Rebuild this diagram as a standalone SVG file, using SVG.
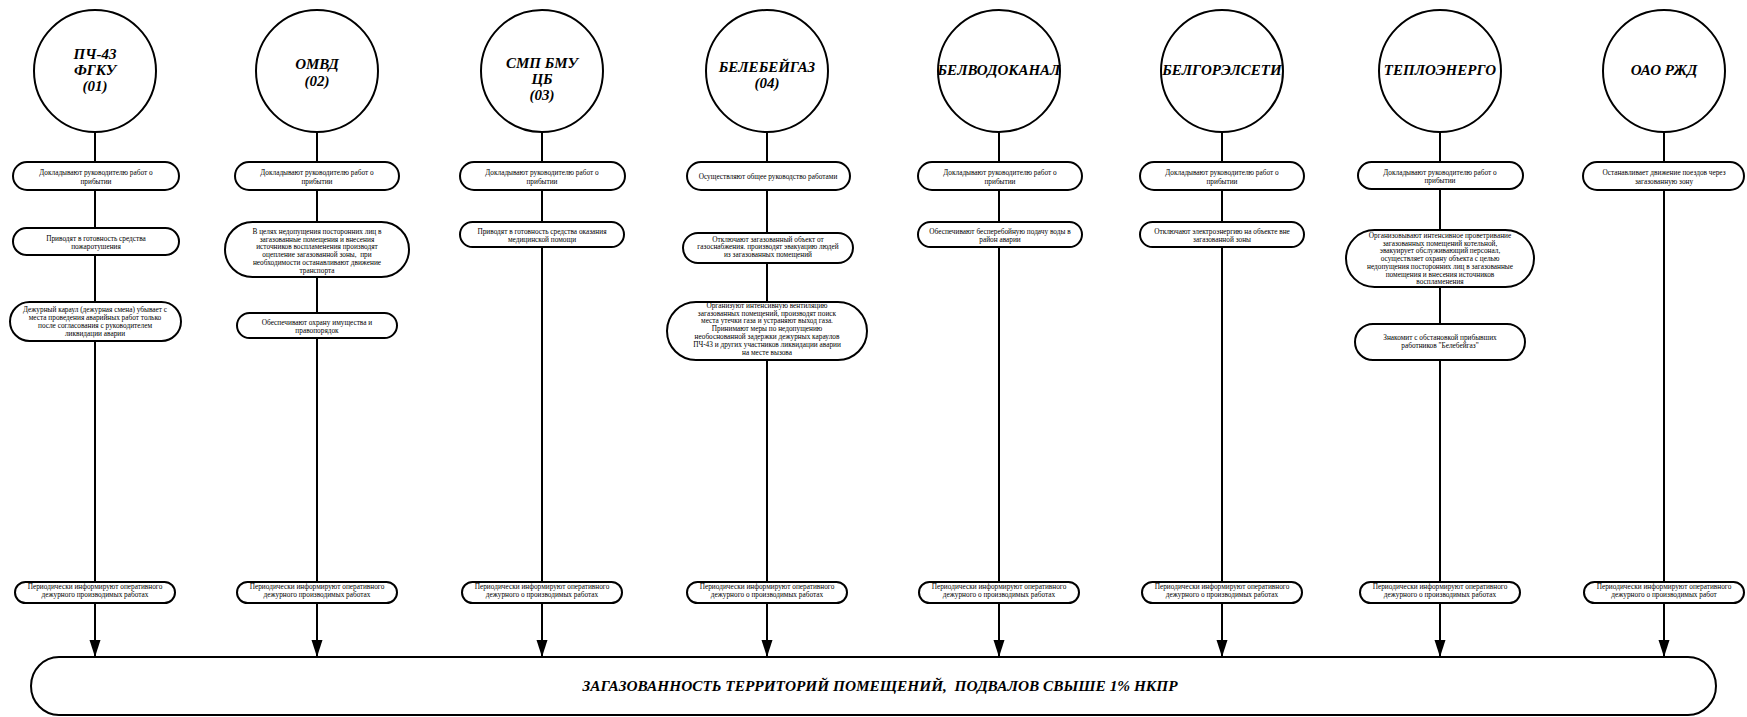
<svg xmlns="http://www.w3.org/2000/svg" width="1747" height="717" viewBox="0 0 1747 717">
<defs>
<style>
.c{fill:#fff;stroke:#000;stroke-width:2}
.b{fill:#fff;stroke:#000;stroke-width:2}
.h{font-family:"Liberation Serif",serif;font-weight:bold;font-style:italic;font-size:15px;text-anchor:middle;fill:#000}
.t{font-family:"Liberation Serif",serif;font-size:7.3px;text-anchor:middle;fill:#000}
.l{stroke:#000;stroke-width:2;fill:none}
.a{stroke:#000;stroke-width:2;fill:none;marker-end:url(#arr)}
.bn{font-family:"Liberation Serif",serif;font-weight:bold;font-style:italic;font-size:15px;text-anchor:middle;fill:#000}
</style>
<marker id="arr" markerUnits="userSpaceOnUse" markerWidth="18" markerHeight="12" refX="17" refY="5.5" orient="auto">
<path d="M0,0 L17,5.5 L0,11 z" fill="#000"/>
</marker>
</defs>
<rect width="1747" height="717" fill="#fff"/>

<g id="connectors">
<path class="l" d="M95,132V162M95,190V228M95,255V302M95,341V582"/>
<path class="a" d="M95,603V657"/>
<path class="l" d="M317,132V162M317,190V222M317,277V313M317,338V582"/>
<path class="a" d="M317,603V657"/>
<path class="l" d="M542,132V162M542,190V222M542,247V582"/>
<path class="a" d="M542,603V657"/>
<path class="l" d="M767,132V162M767,190V233M767,263V302M767,360V582"/>
<path class="a" d="M767,603V657"/>
<path class="l" d="M999,132V162M999,190V222M999,247V582"/>
<path class="a" d="M999,603V657"/>
<path class="l" d="M1222,132V162M1222,190V222M1222,247V582"/>
<path class="a" d="M1222,603V657"/>
<path class="l" d="M1440,132V162M1440,189V230M1440,287V324M1440,360V582"/>
<path class="a" d="M1440,603V657"/>
<path class="l" d="M1664,132V162M1664,190V582"/>
<path class="a" d="M1664,603V657"/>
</g>

<!-- Column 1 -->
<g id="org1"><circle class="c" cx="95" cy="71" r="61"/>
<text class="h" x="95" y="59">ПЧ-43</text><text class="h" x="95" y="75">ФГКУ</text><text class="h" x="95" y="91">(01)</text></g>
<g id="n1a"><rect class="b" x="13" y="162" width="166" height="28" rx="14"/>
<text class="t" x="96" y="175">Докладывают руководителю работ о</text><text class="t" x="96" y="183.5">прибытии</text></g>
<g id="n1b"><rect class="b" x="13" y="228" width="166" height="27" rx="13.5"/>
<text class="t" x="96" y="240.5">Приводят в готовность средства</text><text class="t" x="96" y="249">пожаротушения</text></g>
<g id="n1c"><rect class="b" x="10" y="302" width="171" height="39" rx="19.5"/>
<text class="t" x="95" y="312">Дежурный караул (дежурная смена) убывает с</text><text class="t" x="95" y="320">места проведения аварийных работ только</text><text class="t" x="95" y="328">после согласования с руководителем</text><text class="t" x="95" y="336">ликвидации аварии</text></g>
<g id="n1d"><rect class="b" x="15" y="582" width="160" height="21" rx="10.5"/>
<text class="t" x="95" y="589">Периодически информируют оперативного</text><text class="t" x="95" y="597">дежурного производимых работах</text></g>

<!-- Column 2 -->
<g id="org2"><circle class="c" cx="317" cy="71" r="61"/>
<text class="h" x="317" y="69">ОМВД</text><text class="h" x="317" y="86">(02)</text></g>
<g id="n2a"><rect class="b" x="235" y="162" width="164" height="28" rx="14"/>
<text class="t" x="317" y="175">Докладывают руководителю работ о</text><text class="t" x="317" y="183.5">прибытии</text></g>
<g id="n2b"><rect class="b" x="225" y="222" width="184" height="55" rx="27.5"/>
<text class="t" x="317" y="234">В целях недопущения посторонних лиц в</text><text class="t" x="317" y="241.7">загазованные помещения и внесения</text><text class="t" x="317" y="249.4">источников воспламенения производят</text><text class="t" x="317" y="257.1">оцепление загазованной зоны,&#160; при</text><text class="t" x="317" y="264.8">необходимости останавливают движение</text><text class="t" x="317" y="272.5">транспорта</text></g>
<g id="n2c"><rect class="b" x="237" y="313" width="160" height="25" rx="12.5"/>
<text class="t" x="317" y="324.5">Обеспечивают охрану имущества и</text><text class="t" x="317" y="332.5">правопорядок</text></g>
<g id="n2d"><rect class="b" x="237" y="582" width="160" height="21" rx="10.5"/>
<text class="t" x="317" y="589">Периодически информируют оперативного</text><text class="t" x="317" y="597">дежурного производимых работах</text></g>

<!-- Column 3 -->
<g id="org3"><circle class="c" cx="542" cy="71" r="61"/>
<text class="h" x="542" y="68">СМП БМУ</text><text class="h" x="542" y="84">ЦБ</text><text class="h" x="542" y="100">(03)</text></g>
<g id="n3a"><rect class="b" x="460" y="162" width="165" height="28" rx="14"/>
<text class="t" x="542" y="175">Докладывают руководителю работ о</text><text class="t" x="542" y="183.5">прибытии</text></g>
<g id="n3b"><rect class="b" x="460" y="222" width="164" height="25" rx="12.5"/>
<text class="t" x="542" y="233.5">Приводят в готовность средства оказания</text><text class="t" x="542" y="241.5">медицинской помощи</text></g>
<g id="n3d"><rect class="b" x="462" y="582" width="160" height="21" rx="10.5"/>
<text class="t" x="542" y="589">Периодически информируют оперативного</text><text class="t" x="542" y="597">дежурного о производимых работах</text></g>

<!-- Column 4 -->
<g id="org4"><circle class="c" cx="767" cy="71" r="61"/>
<text class="h" x="767" y="72">БЕЛЕБЕЙГАЗ</text><text class="h" x="767" y="88">(04)</text></g>
<g id="n4a"><rect class="b" x="687" y="162" width="163" height="28" rx="14"/>
<text class="t" x="768" y="178.5">Осуществляют общее руководство работами</text></g>
<g id="n4b"><rect class="b" x="683" y="233" width="170" height="30" rx="15"/>
<text class="t" x="768" y="241.5">Отключают загазованный объект от</text><text class="t" x="768" y="249">газоснабжения. производят эвакуацию людей</text><text class="t" x="768" y="256.5">из загазованных помещений</text></g>
<g id="n4c"><rect class="b" x="667" y="302" width="200" height="58" rx="29"/>
<text class="t" x="767" y="307.8">Организуют интенсивную вентиляцию</text><text class="t" x="767" y="315.6">загазованных помещений, производят поиск</text><text class="t" x="767" y="323.4">места утечки газа и устраняют выход газа.</text><text class="t" x="767" y="331.2">Принимают меры по недопущению</text><text class="t" x="767" y="339">необоснованной задержки дежурных караулов</text><text class="t" x="767" y="346.8">ПЧ-43 и других участников ликвидации аварии</text><text class="t" x="767" y="354.6">на месте вызова</text></g>
<g id="n4d"><rect class="b" x="687" y="582" width="160" height="21" rx="10.5"/>
<text class="t" x="767" y="589">Периодически информируют оперативного</text><text class="t" x="767" y="597">дежурного о производимых работах</text></g>

<!-- Column 5 -->
<g id="org5"><circle class="c" cx="999" cy="71" r="61"/>
<text class="h" x="999" y="75">БЕЛВОДОКАНАЛ</text></g>
<g id="n5a"><rect class="b" x="918" y="162" width="164" height="28" rx="14"/>
<text class="t" x="1000" y="175">Докладывают руководителю работ о</text><text class="t" x="1000" y="183.5">прибытии</text></g>
<g id="n5b"><rect class="b" x="918" y="222" width="164" height="25" rx="12.5"/>
<text class="t" x="1000" y="233.5">Обеспечивают бесперебойную подачу воды в</text><text class="t" x="1000" y="241.5">район аварии</text></g>
<g id="n5d"><rect class="b" x="919" y="582" width="160" height="21" rx="10.5"/>
<text class="t" x="999" y="589">Периодически информируют оперативного</text><text class="t" x="999" y="597">дежурного о производимых работах</text></g>

<!-- Column 6 -->
<g id="org6"><circle class="c" cx="1222" cy="71" r="61"/>
<text class="h" x="1222" y="75">БЕЛГОРЭЛСЕТИ</text></g>
<g id="n6a"><rect class="b" x="1140" y="162" width="164" height="28" rx="14"/>
<text class="t" x="1222" y="175">Докладывают руководителю работ о</text><text class="t" x="1222" y="183.5">прибытии</text></g>
<g id="n6b"><rect class="b" x="1140" y="222" width="164" height="25" rx="12.5"/>
<text class="t" x="1222" y="233.5">Отключают электроэнергию на объекте вне</text><text class="t" x="1222" y="241.5">загазованной зоны</text></g>
<g id="n6d"><rect class="b" x="1142" y="582" width="160" height="21" rx="10.5"/>
<text class="t" x="1222" y="589">Периодически информируют оперативного</text><text class="t" x="1222" y="597">дежурного о производимых работах</text></g>

<!-- Column 7 -->
<g id="org7"><circle class="c" cx="1440" cy="71" r="61"/>
<text class="h" x="1440" y="75">ТЕПЛОЭНЕРГО</text></g>
<g id="n7a"><rect class="b" x="1358" y="162" width="165" height="27" rx="13.5"/>
<text class="t" x="1440" y="174.5">Докладывают руководителю работ о</text><text class="t" x="1440" y="183">прибытии</text></g>
<g id="n7b"><rect class="b" x="1346" y="230" width="188" height="57" rx="28.5"/>
<text class="t" x="1440" y="238">Организовывают интенсивное проветривание</text><text class="t" x="1440" y="245.7">загазованных помещений котельной,</text><text class="t" x="1440" y="253.4">эвакуирует обслуживающий персонал,</text><text class="t" x="1440" y="261.1">осуществляет охрану объекта с целью</text><text class="t" x="1440" y="268.8">недопущения посторонних лиц в загазованные</text><text class="t" x="1440" y="276.5">помещения и внесения источников</text><text class="t" x="1440" y="284.2">воспламенения</text></g>
<g id="n7c"><rect class="b" x="1355" y="324" width="170" height="36" rx="18"/>
<text class="t" x="1440" y="340">Знакомит с обстановкой прибывших</text><text class="t" x="1440" y="347.5">работников "Белебейгаз"</text></g>
<g id="n7d"><rect class="b" x="1360" y="582" width="160" height="21" rx="10.5"/>
<text class="t" x="1440" y="589">Периодически информируют оперативного</text><text class="t" x="1440" y="597">дежурного о производимых работах</text></g>

<!-- Column 8 -->
<g id="org8"><circle class="c" cx="1664" cy="71" r="61"/>
<text class="h" x="1664" y="75">ОАО РЖД</text></g>
<g id="n8a"><rect class="b" x="1583" y="162" width="161" height="28" rx="14"/>
<text class="t" x="1664" y="175">Останавливает движение поездов через</text><text class="t" x="1664" y="183.5">загазованную зону</text></g>
<g id="n8d"><rect class="b" x="1584" y="582" width="160" height="21" rx="10.5"/>
<text class="t" x="1664" y="589">Периодически информируют оперативного</text><text class="t" x="1664" y="597">дежурного о производимых работ</text></g>

<!-- Banner -->
<g id="result"><rect class="b" x="31" y="657" width="1685" height="58" rx="28" ry="29"/>
<text class="bn" x="880" y="691" textLength="595" lengthAdjust="spacingAndGlyphs">ЗАГАЗОВАННОСТЬ ТЕРРИТОРИЙ ПОМЕЩЕНИЙ,&#160; ПОДВАЛОВ СВЫШЕ 1% НКПР</text></g>
</svg>
